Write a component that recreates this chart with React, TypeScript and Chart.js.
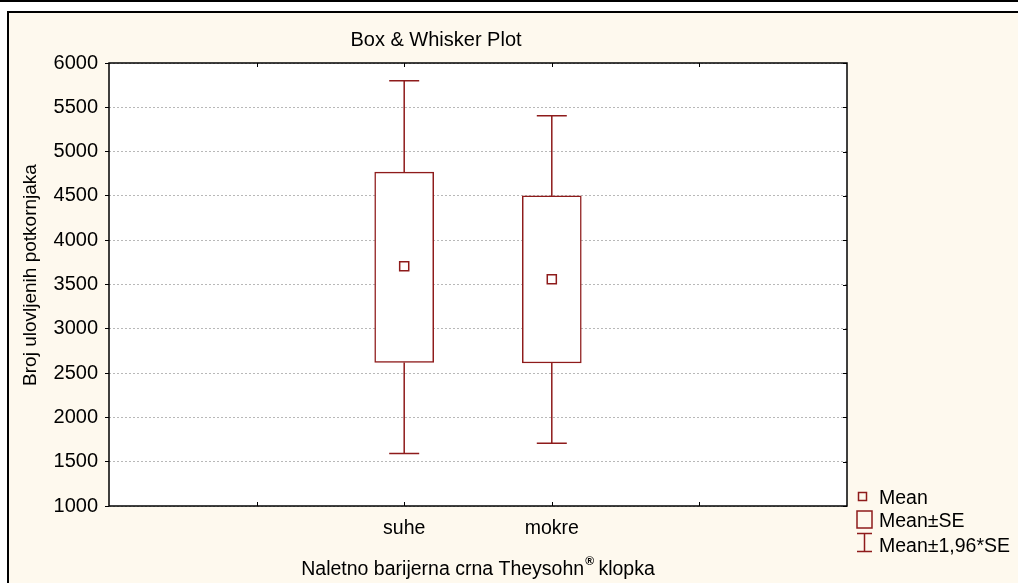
import React, { useEffect, useRef } from 'react';
import { Chart, registerables } from 'chart.js';

Chart.register(...registerables);

// ---- data ----
const categories = ['suhe', 'mokre'];
const meanValues = [3705, 3560];
const seLower = [2621, 2614];
const seUpper = [4768, 4500];
const ciLower = [1592, 1708];
const ciUpper = [5800, 5406];
const emptySlotsBefore = 2;
const emptySlotsAfter = 2;
const yMin = 1000;
const yMax = 6000;
const yStep = 500;

const titleText = 'Box & Whisker Plot';
const yTitle = 'Broj ulovljenih potkornjaka';
const xTitleMain = 'Naletno barijerna crna Theysohn';
const xTitleSup = '®';
const xTitleRest = ' klopka';
const legendLabels = ['Mean', 'Mean±SE', 'Mean±1,96*SE'];

// ---- style ----
const W = 1018;
const H = 583;
const RED = '#8e1b1b';
const CREAM = '#fef9ee';
const FONT = "'Liberation Sans', Arial, sans-serif";

const pad = (arr: (number | number[])[]) => [
  ...Array(emptySlotsBefore).fill(null),
  ...arr,
  ...Array(emptySlotsAfter).fill(null),
];
const xLabels = [
  ...Array(emptySlotsBefore).fill(''),
  ...categories,
  ...Array(emptySlotsAfter).fill(''),
];

const decor = {
  id: 'decor',
  beforeDraw(chart: any) {
    const { ctx, chartArea: a } = chart;
    ctx.save();
    ctx.fillStyle = '#ffffff';
    ctx.fillRect(0, 0, W, H);
    ctx.fillStyle = '#000000';
    ctx.fillRect(0, 0, W, 2);
    ctx.fillRect(7, 11, W - 7, 2);
    ctx.fillRect(7, 11, 2, H - 11);
    ctx.fillStyle = CREAM;
    ctx.fillRect(9, 13, W - 9, H - 13);
    ctx.fillStyle = '#ffffff';
    ctx.fillRect(a.left, a.top, a.right - a.left, a.bottom - a.top);
    ctx.restore();
  },
  afterDatasetsDraw(chart: any) {
    const { ctx } = chart;
    const xs = chart.scales.x;
    const ys = chart.scales.y;
    ctx.save();
    ctx.strokeStyle = RED;
    ctx.lineWidth = 1.5;
    const cap = 15;
    categories.forEach((_, i) => {
      const x = xs.getPixelForValue(emptySlotsBefore + i);
      const yTopBox = ys.getPixelForValue(seUpper[i]);
      const yTop = ys.getPixelForValue(ciUpper[i]);
      const yBotBox = ys.getPixelForValue(seLower[i]);
      const yBot = ys.getPixelForValue(ciLower[i]);
      ctx.beginPath();
      ctx.moveTo(x, yTopBox);
      ctx.lineTo(x, yTop);
      ctx.moveTo(x - cap, yTop);
      ctx.lineTo(x + cap, yTop);
      ctx.moveTo(x, yBotBox);
      ctx.lineTo(x, yBot);
      ctx.moveTo(x - cap, yBot);
      ctx.lineTo(x + cap, yBot);
      ctx.stroke();
    });
    ctx.restore();
  },
  afterDraw(chart: any) {
    const { ctx, chartArea: a } = chart;
    const xs = chart.scales.x;
    const ys = chart.scales.y;
    ctx.save();
    // plot frame
    ctx.strokeStyle = '#000000';
    ctx.lineWidth = 1.5;
    ctx.strokeRect(a.left, a.top, a.right - a.left, a.bottom - a.top);
    // inward ticks
    ctx.lineWidth = 1;
    ctx.beginPath();
    for (let i = 1; i < xLabels.length - 1; i++) {
      const x = Math.round(xs.getPixelForValue(i)) + 0.5;
      ctx.moveTo(x, a.top);
      ctx.lineTo(x, a.top + 4);
      ctx.moveTo(x, a.bottom);
      ctx.lineTo(x, a.bottom - 4);
    }
    ys.ticks.forEach((t: any) => {
      const y = Math.round(ys.getPixelForValue(t.value)) + 0.5;
      ctx.moveTo(a.right, y);
      ctx.lineTo(a.right - 4, y);
    });
    ctx.stroke();

    // title
    ctx.fillStyle = '#000000';
    ctx.font = `20px ${FONT}`;
    ctx.textAlign = 'center';
    ctx.textBaseline = 'alphabetic';
    ctx.fillText(titleText, 436, 46);

    // y title
    ctx.save();
    ctx.font = `19px ${FONT}`;
    ctx.translate(36, 275);
    ctx.rotate(-Math.PI / 2);
    ctx.fillText(yTitle, 0, 0);
    ctx.restore();

    // x title with superscript
    ctx.textAlign = 'left';
    const mainFont = `19.5px ${FONT}`;
    const supFont = `bold 12px ${FONT}`;
    ctx.font = mainFont;
    const w1 = ctx.measureText(xTitleMain).width;
    const w3 = ctx.measureText(xTitleRest).width;
    ctx.font = supFont;
    const w2 = ctx.measureText(xTitleSup).width;
    const total = w1 + w2 + w3;
    const sx = 478 - total / 2;
    ctx.font = mainFont;
    ctx.fillText(xTitleMain, sx, 575);
    ctx.font = supFont;
    ctx.fillText(xTitleSup, sx + w1 + 1, 565);
    ctx.font = mainFont;
    ctx.fillText(xTitleRest, sx + w1 + w2, 575);

    // legend
    ctx.strokeStyle = RED;
    ctx.lineWidth = 1.5;
    ctx.strokeRect(858.5, 492.5, 8, 8);
    ctx.strokeRect(857, 511, 15, 17);
    ctx.beginPath();
    ctx.moveTo(857, 533.5);
    ctx.lineTo(872, 533.5);
    ctx.moveTo(864.5, 533.5);
    ctx.lineTo(864.5, 551.5);
    ctx.moveTo(857, 551.5);
    ctx.lineTo(872, 551.5);
    ctx.stroke();
    ctx.fillStyle = '#000000';
    ctx.font = `19.5px ${FONT}`;
    ctx.textAlign = 'left';
    ctx.fillText(legendLabels[0], 879, 504);
    ctx.fillText(legendLabels[1], 879, 527);
    ctx.fillText(legendLabels[2], 879, 551.5);
    ctx.restore();
  },
};

export default function App() {
  const ref = useRef<HTMLCanvasElement>(null);
  useEffect(() => {
    if (!ref.current) return;
    const chart = new Chart(ref.current, {
      type: 'bar',
      data: {
        labels: xLabels,
        datasets: [
          {
            type: 'line',
            label: 'Mean',
            data: pad(meanValues) as any,
            showLine: false,
            pointStyle: 'rect',
            pointRadius: 6.4,
            pointBackgroundColor: '#ffffff',
            pointBorderColor: RED,
            pointBorderWidth: 1.5,
            order: 0,
          } as any,
          {
            type: 'bar',
            label: 'Mean±SE',
            data: pad(categories.map((_, i) => [seLower[i], seUpper[i]])) as any,
            backgroundColor: '#ffffff',
            borderColor: RED,
            borderWidth: 1.5,
            borderSkipped: false,
            barThickness: 59,
            order: 1,
          } as any,
        ],
      },
      options: {
        responsive: false,
        animation: false,
        layout: { padding: { left: 0, right: 171, top: 63, bottom: 0 } },
        plugins: {
          legend: { display: false },
          tooltip: { enabled: false },
          title: { display: false },
        },
        scales: {
          x: {
            type: 'category',
            offset: false,
            grid: { display: false },
            border: { display: false },
            ticks: {
              autoSkip: false,
              maxRotation: 0,
              color: '#000000',
              padding: 3,
              font: { family: FONT, size: 19.5 },
            },
            afterFit: (s: any) => {
              s.height = 77;
            },
          },
          y: {
            type: 'linear',
            min: yMin,
            max: yMax,
            ticks: {
              stepSize: yStep,
              color: '#000000',
              padding: 7,
              font: { family: FONT, size: 20 },
              callback: (v: any) => String(v),
            },
            grid: {
              color: '#b8b8b8',
              lineWidth: 1,
              tickColor: '#000000',
              tickLength: 4,
              tickWidth: 1,
            },
            border: { display: false, dash: [2, 2] },
            afterFit: (s: any) => {
              s.width = 109;
            },
          },
        },
      } as any,
      plugins: [decor],
    });
    return () => chart.destroy();
  }, []);
  return (
    <div style={{ position: 'fixed', left: 0, top: 0, width: W, height: H }}>
      <canvas ref={ref} width={W} height={H} style={{ width: W, height: H, display: 'block' }} />
    </div>
  );
}
